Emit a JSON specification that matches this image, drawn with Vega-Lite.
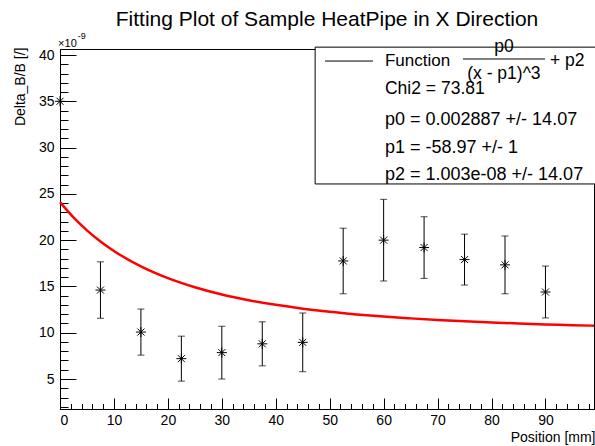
{
  "$schema": "https://vega.github.io/schema/vega-lite/v6.json",
  "width": 534,
  "height": 360,
  "autosize": {"type": "none"},
  "padding": {"left": 60, "top": 49, "right": 1, "bottom": 37},
  "background": "white",
  "config": {
    "font": "Liberation Sans",
    "view": {"stroke": "black", "strokeWidth": 1},
    "axis": {
      "domainColor": "black", "tickColor": "black", "labelColor": "black", "titleColor": "black",
      "labelFont": "Liberation Sans", "titleFont": "Liberation Sans",
      "labelFontSize": 14, "titleFontSize": 14, "titleFontWeight": "normal", "grid": false,
      "tickWidth": 1, "domainWidth": 1
    },
    "text": {"font": "Liberation Sans", "color": "black"}
  },
  "title": {
    "text": "Fitting Plot of Sample HeatPipe in X Direction",
    "fontSize": 21, "fontWeight": "normal", "font": "Liberation Sans", "color": "black",
    "anchor": "middle", "frame": "group", "baseline": "alphabetic", "offset": 5, "dy": 20
  },
  "datasets": {
    "pts": [
      {"x": 0, "y": 35.0},
      {"x": 7.5, "y": 14.61, "err": 3.05},
      {"x": 15, "y": 10.07, "err": 2.49},
      {"x": 22.5, "y": 7.2, "err": 2.43},
      {"x": 30, "y": 7.85, "err": 2.85},
      {"x": 37.5, "y": 8.8, "err": 2.38},
      {"x": 45, "y": 8.96, "err": 3.17},
      {"x": 52.5, "y": 17.75, "err": 3.54},
      {"x": 60, "y": 20.0, "err": 4.41},
      {"x": 67.5, "y": 19.2, "err": 3.33},
      {"x": 75, "y": 17.9, "err": 2.75},
      {"x": 82.5, "y": 17.33, "err": 3.12},
      {"x": 90, "y": 14.4, "err": 2.8}
    ],
    "curve": [
      {"x": 0, "y": 24.11}, {"x": 2.5, "y": 22.46}, {"x": 5, "y": 21.06}, {"x": 7.5, "y": 19.86},
      {"x": 10, "y": 18.83}, {"x": 15, "y": 17.16}, {"x": 20, "y": 15.89}, {"x": 25, "y": 14.91},
      {"x": 30, "y": 14.13}, {"x": 35, "y": 13.51}, {"x": 40, "y": 13.01}, {"x": 45, "y": 12.6},
      {"x": 50, "y": 12.26}, {"x": 55, "y": 11.98}, {"x": 60, "y": 11.74}, {"x": 65, "y": 11.55},
      {"x": 70, "y": 11.38}, {"x": 75, "y": 11.23}, {"x": 80, "y": 11.11}, {"x": 85, "y": 11.0},
      {"x": 90, "y": 10.9}, {"x": 95, "y": 10.82}, {"x": 99, "y": 10.76}
    ]
  },
  "layer": [
    {
      "data": {"name": "curve"},
      "mark": {"type": "line", "color": "#ff0000", "strokeWidth": 2.5, "interpolate": "monotone"},
      "encoding": {
        "x": {"field": "x", "type": "quantitative", "scale": {"domain": [0, 99], "nice": false, "zero": false},
          "axis": {"orient": "bottom", "values": [0, 10, 20, 30, 40, 50, 60, 70, 80, 90], "tickSize": -11, "labelPadding": 15,
            "title": "Position [mm]", "titleX": 535, "titleY": 32, "titleAlign": "right", "titleBaseline": "alphabetic", "titleAnchor": null}},
        "y": {"field": "y", "type": "quantitative", "scale": {"domain": [1.76, 40.65], "nice": false, "zero": false},
          "axis": {"orient": "left", "values": [5, 10, 15, 20, 25, 30, 35, 40], "tickSize": -16, "labelPadding": 22,
            "title": "Delta_B/B [/]", "titleX": -40, "titleY": -2, "titleAngle": -90, "titleAlign": "right", "titleBaseline": "middle", "titleAnchor": null}}
      }
    },
    {
      "data": {"name": "pts"},
      "transform": [{"filter": "isValid(datum.err)"}],
      "mark": {"type": "errorbar", "color": "black", "ticks": {"size": 7, "thickness": 1, "color": "black"}, "rule": {"strokeWidth": 1, "color": "black"}},
      "encoding": {
        "x": {"field": "x", "type": "quantitative", "scale": {"domain": [0, 99], "nice": false, "zero": false},
          "axis": {"orient": "bottom", "values": [0,2,4,6,8,10,12,14,16,18,20,22,24,26,28,30,32,34,36,38,40,42,44,46,48,50,52,54,56,58,60,62,64,66,68,70,72,74,76,78,80,82,84,86,88,90,92,94,96,98], "tickSize": -5.5, "labels": false, "domain": false, "title": null}},
        "y": {"field": "y", "type": "quantitative", "scale": {"domain": [1.76, 40.65], "nice": false, "zero": false},
          "axis": {"orient": "left", "values": [2,3,4,5,6,7,8,9,10,11,12,13,14,15,16,17,18,19,20,21,22,23,24,25,26,27,28,29,30,31,32,33,34,35,36,37,38,39,40], "tickSize": -8, "labels": false, "domain": false, "title": null}},
        "yError": {"field": "err"}
      }
    },
    {
      "data": {"name": "pts"},
      "mark": {"type": "point", "shape": "M-1,0L1,0M0,-1L0,1M-0.7,-0.7L0.7,0.7M-0.7,0.7L0.7,-0.7", "filled": false, "stroke": "black", "strokeWidth": 1, "size": 100, "opacity": 1},
      "encoding": {
        "x": {"field": "x", "type": "quantitative", "scale": {"domain": [0, 99], "nice": false, "zero": false}, "axis": null},
        "y": {"field": "y", "type": "quantitative", "scale": {"domain": [1.76, 40.65], "nice": false, "zero": false}, "axis": null}
      }
    },
    {
      "data": {"values": [{}]},
      "mark": {"type": "rect", "fill": "white", "stroke": "black", "strokeWidth": 1},
      "encoding": {
        "x": {"datum": 47.3, "type": "quantitative", "scale": {"domain": [0, 99], "nice": false, "zero": false}, "axis": null},
        "x2": {"datum": 99.3},
        "y": {"datum": 40.85, "type": "quantitative", "scale": {"domain": [1.76, 40.65], "nice": false, "zero": false}, "axis": null},
        "y2": {"datum": 26.07}
      }
    },
    {
      "data": {"values": [{}]},
      "mark": {"type": "rule", "color": "black", "strokeWidth": 1},
      "encoding": {
        "x": {"datum": 49.13, "type": "quantitative", "scale": {"domain": [0, 99], "nice": false, "zero": false}, "axis": null},
        "x2": {"datum": 58.03},
        "y": {"datum": 39.35, "type": "quantitative", "scale": {"domain": [1.76, 40.65], "nice": false, "zero": false}, "axis": null}
      }
    },
    {
      "data": {"values": [{}]},
      "mark": {"type": "rule", "color": "black", "strokeWidth": 1},
      "encoding": {
        "x": {"datum": 74.71, "type": "quantitative", "scale": {"domain": [0, 99], "nice": false, "zero": false}, "axis": null},
        "x2": {"datum": 89.92},
        "y": {"datum": 39.57, "type": "quantitative", "scale": {"domain": [1.76, 40.65], "nice": false, "zero": false}, "axis": null}
      }
    },
    {
      "data": {"values": [{}]},
      "mark": {"type": "text", "text": "Function", "align": "left", "baseline": "middle", "fontSize": 17},
      "encoding": {
        "x": {"datum": 60.25, "type": "quantitative", "scale": {"domain": [0, 99], "nice": false, "zero": false}, "axis": null},
        "y": {"datum": 39.35, "type": "quantitative", "scale": {"domain": [1.76, 40.65], "nice": false, "zero": false}, "axis": null}
      }
    },
    {
      "data": {"values": [{}]},
      "mark": {"type": "text", "text": "p0", "align": "center", "baseline": "middle", "fontSize": 17.5},
      "encoding": {
        "x": {"datum": 82.3, "type": "quantitative", "scale": {"domain": [0, 99], "nice": false, "zero": false}, "axis": null},
        "y": {"datum": 40.87, "type": "quantitative", "scale": {"domain": [1.76, 40.65], "nice": false, "zero": false}, "axis": null}
      }
    },
    {
      "data": {"values": [{}]},
      "mark": {"type": "text", "text": "(x - p1)^3", "align": "center", "baseline": "middle", "fontSize": 17.5},
      "encoding": {
        "x": {"datum": 82.3, "type": "quantitative", "scale": {"domain": [0, 99], "nice": false, "zero": false}, "axis": null},
        "y": {"datum": 38.0, "type": "quantitative", "scale": {"domain": [1.76, 40.65], "nice": false, "zero": false}, "axis": null}
      }
    },
    {
      "data": {"values": [{}]},
      "mark": {"type": "text", "text": "+ p2", "align": "left", "baseline": "middle", "fontSize": 17.5},
      "encoding": {
        "x": {"datum": 90.84, "type": "quantitative", "scale": {"domain": [0, 99], "nice": false, "zero": false}, "axis": null},
        "y": {"datum": 39.35, "type": "quantitative", "scale": {"domain": [1.76, 40.65], "nice": false, "zero": false}, "axis": null}
      }
    },
    {
      "data": {"values": [{}]},
      "mark": {"type": "text", "text": "Chi2 = 73.81", "align": "left", "baseline": "middle", "fontSize": 17.5},
      "encoding": {
        "x": {"datum": 60.25, "type": "quantitative", "scale": {"domain": [0, 99], "nice": false, "zero": false}, "axis": null},
        "y": {"datum": 36.33, "type": "quantitative", "scale": {"domain": [1.76, 40.65], "nice": false, "zero": false}, "axis": null}
      }
    },
    {
      "data": {"values": [{}]},
      "mark": {"type": "text", "text": "p0 = 0.002887 +/- 14.07", "align": "left", "baseline": "middle", "fontSize": 18},
      "encoding": {
        "x": {"datum": 60.25, "type": "quantitative", "scale": {"domain": [0, 99], "nice": false, "zero": false}, "axis": null},
        "y": {"datum": 32.98, "type": "quantitative", "scale": {"domain": [1.76, 40.65], "nice": false, "zero": false}, "axis": null}
      }
    },
    {
      "data": {"values": [{}]},
      "mark": {"type": "text", "text": "p1 = -58.97 +/- 1", "align": "left", "baseline": "middle", "fontSize": 18},
      "encoding": {
        "x": {"datum": 60.25, "type": "quantitative", "scale": {"domain": [0, 99], "nice": false, "zero": false}, "axis": null},
        "y": {"datum": 29.96, "type": "quantitative", "scale": {"domain": [1.76, 40.65], "nice": false, "zero": false}, "axis": null}
      }
    },
    {
      "data": {"values": [{}]},
      "mark": {"type": "text", "text": "p2 = 1.003e-08 +/- 14.07", "align": "left", "baseline": "middle", "fontSize": 18},
      "encoding": {
        "x": {"datum": 60.25, "type": "quantitative", "scale": {"domain": [0, 99], "nice": false, "zero": false}, "axis": null},
        "y": {"datum": 27.04, "type": "quantitative", "scale": {"domain": [1.76, 40.65], "nice": false, "zero": false}, "axis": null}
      }
    },
    {
      "data": {"values": [{}]},
      "mark": {"type": "text", "text": "×10", "align": "left", "baseline": "alphabetic", "fontSize": 11},
      "encoding": {
        "x": {"datum": -0.35, "type": "quantitative", "scale": {"domain": [0, 99], "nice": false, "zero": false}, "axis": null},
        "y": {"datum": 40.85, "type": "quantitative", "scale": {"domain": [1.76, 40.65], "nice": false, "zero": false}, "axis": null}
      }
    },
    {
      "data": {"values": [{}]},
      "mark": {"type": "text", "text": "-9", "align": "left", "baseline": "alphabetic", "fontSize": 9},
      "encoding": {
        "x": {"datum": 3.3, "type": "quantitative", "scale": {"domain": [0, 99], "nice": false, "zero": false}, "axis": null},
        "y": {"datum": 41.75, "type": "quantitative", "scale": {"domain": [1.76, 40.65], "nice": false, "zero": false}, "axis": null}
      }
    }
  ],
  "resolve": {"axis": {"x": "independent", "y": "independent"}}
}
